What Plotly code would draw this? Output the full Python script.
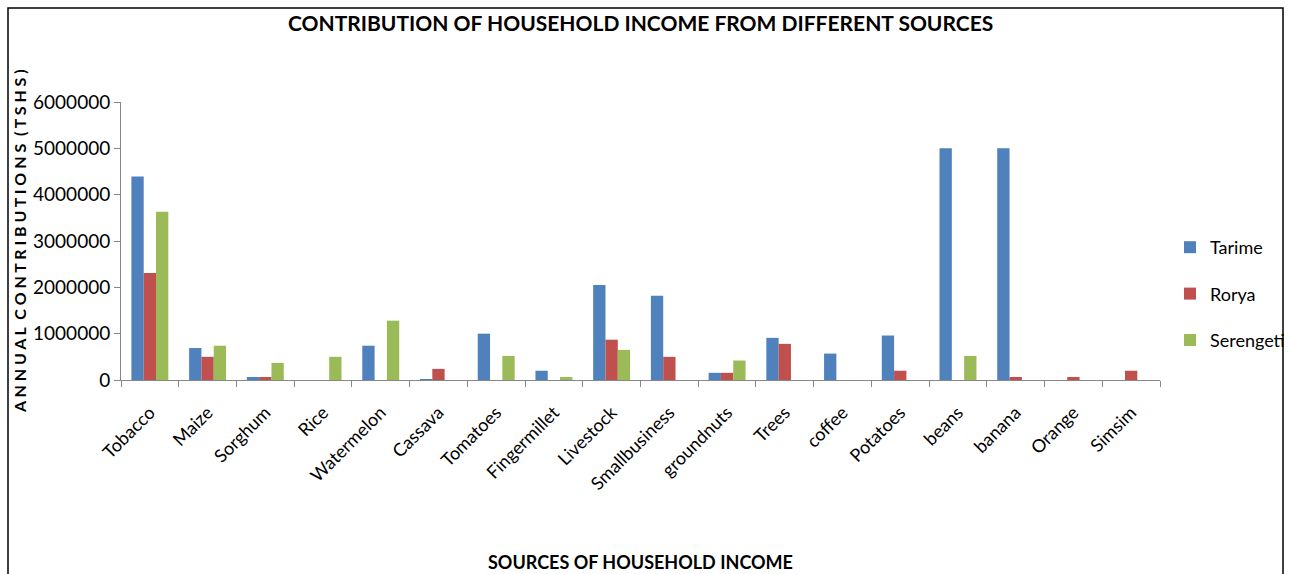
import plotly.graph_objects as go

categories = ["Tobacco", "Maize", "Sorghum", "Rice", "Watermelon", "Cassava", "Tomatoes",
              "Fingermillet", "Livestock", "Smallbusiness", "groundnuts", "Trees", "coffee",
              "Potatoes", "beans", "banana", "Orange", "Simsim"]
tarime = [4390000, 690000, 65000, 0, 740000, 20000, 1000000, 200000, 2050000, 1820000,
          155000, 910000, 570000, 960000, 5000000, 5000000, 0, 0]
rorya = [2310000, 500000, 65000, 0, 0, 240000, 0, 0, 870000, 500000,
         155000, 780000, 0, 200000, 0, 65000, 65000, 200000]
serengeti = [3630000, 740000, 370000, 500000, 1280000, 0, 520000, 65000, 650000, 0,
             420000, 0, 0, 0, 520000, 0, 0, 0]
y_ticks = [0, 1000000, 2000000, 3000000, 4000000, 5000000, 6000000]

FONT = "Lato, Open Sans, sans-serif"
W, H = 1291, 574
L, R, T, B = 121, 131, 102, 194
pw, ph = W - L - R, H - T - B

fig = go.Figure()
for name, vals, col in [("Tarime", tarime, "#4F81BD"), ("Rorya", rorya, "#C0504D"),
                        ("Serengeti", serengeti, "#9BBB59")]:
    fig.add_trace(go.Bar(x=categories, y=vals, name=name, marker_color=col,
                         marker_line_width=0, legendgroup=name))

def px_x(x):
    return (x - L) / pw

def px_y(y):
    return (H - B - y) / ph

fig.update_layout(
    width=W, height=H,
    margin=dict(l=L, r=R, t=T, b=B, autoexpand=False),
    paper_bgcolor="white", plot_bgcolor="white",
    barmode="group", bargap=0.36, bargroupgap=0,
    font=dict(family=FONT, color="black", size=16),
    showlegend=True,
    legend=dict(x=1170 / W, y=1 - 229 / H, xref="container", yref="container",
                xanchor="left", yanchor="top",
                font=dict(size=18, family=FONT), tracegroupgap=20,
                bgcolor="rgba(0,0,0,0)", itemwidth=30),
    xaxis=dict(type="category", tickangle=-45, tickson="boundaries", ticks="outside",
               ticklen=6, tickcolor="#868686", showline=True, linecolor="#868686",
               linewidth=1, showgrid=False, tickfont=dict(size=18, family=FONT),
               ticklabelstandoff=14),
    yaxis=dict(range=[0, 6000000], tickvals=y_ticks, ticktext=[str(v) for v in y_ticks],
               ticks="outside", ticklen=6, tickcolor="#868686", showline=True,
               linecolor="#868686", linewidth=1, showgrid=False, zeroline=False,
               tickfont=dict(size=19, family=FONT)),
    annotations=[
        dict(text="<b>CONTRIBUTION OF HOUSEHOLD INCOME FROM DIFFERENT SOURCES</b>",
             x=px_x(640), y=px_y(22), xref="paper", yref="paper", showarrow=False,
             font=dict(size=21, family=FONT), xanchor="center", yanchor="middle"),
        dict(text="<b>A N N U A L  C O N T R I B U T I O N S  ( T S H S )</b>",
             x=px_x(19), y=px_y(241), xref="paper", yref="paper", showarrow=False,
             textangle=-90, font=dict(size=16, family=FONT), xanchor="center", yanchor="middle"),
        dict(text="<b>SOURCES OF HOUSEHOLD INCOME</b>",
             x=px_x(640), y=px_y(562), xref="paper", yref="paper", showarrow=False,
             font=dict(size=18, family=FONT), xanchor="center", yanchor="middle"),
    ],
    shapes=[dict(type="rect", xref="paper", yref="paper",
                 x0=px_x(8), x1=px_x(1283), y0=px_y(600), y1=px_y(8),
                 line=dict(color="black", width=1.5), fillcolor="rgba(0,0,0,0)")],
)

fig.write_html("out.html")
